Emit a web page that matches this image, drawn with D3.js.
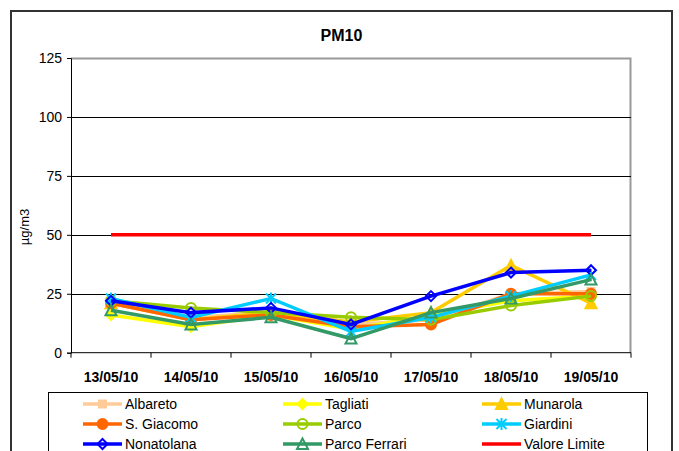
<!DOCTYPE html>
<html>
<head>
<meta charset="utf-8">
<script src="https://cdn.jsdelivr.net/npm/d3@7/dist/d3.min.js"></script>
<style>
  body { margin: 0; background: #fff; }
  text { font-family: Arial, "Liberation Sans", sans-serif; fill: #000; }
</style>
</head>
<body>
<div id="chart"></div>
<script>
// data
var dates = ["13/05/10", "14/05/10", "15/05/10", "16/05/10", "17/05/10", "18/05/10", "19/05/10"];
var yTicks = [0, 25, 50, 75, 100, 125];

var albareto = [21, 15, 17, 12, 14, 25, 26];
var tagliati = [16, 11, 16, 10, 16, 22, 24];
var munarola = [21, 14, 17, 13, 17, 37, 21];
var sGiacomo = [21, 14, 16, 11, 12, 25, 25];
var parco = [22, 19, 17, 15, 14, 20, 24];
var giardini = [23, 15, 23, 9, 15, 24, 33];
var nonatolana = [22, 17, 19, 12, 24, 34, 35];
var parcoFerrari = [18, 12, 15, 6, 17, 23, 31];
var valoreLimite = [50, 50, 50, 50, 50, 50, 50];

var series = [
  { name: "Albareto", values: albareto, color: "#FFCC99", marker: "square", fill: true },
  { name: "Tagliati", values: tagliati, color: "#FFFF00", marker: "diamond", fill: true },
  { name: "Munarola", values: munarola, color: "#FFCC00", marker: "triangle", fill: true },
  { name: "S. Giacomo", values: sGiacomo, color: "#FF6600", marker: "circle", fill: true },
  { name: "Parco", values: parco, color: "#99CC00", marker: "circle", fill: false },
  { name: "Giardini", values: giardini, color: "#00CCFF", marker: "star", fill: false },
  { name: "Nonatolana", values: nonatolana, color: "#0000FF", marker: "diamond", fill: false },
  { name: "Parco Ferrari", values: parcoFerrari, color: "#339966", marker: "triangle", fill: false },
  { name: "Valore Limite", values: valoreLimite, color: "#FF0000", marker: null, fill: false }
];

var W = 679, H = 451;
var margin = { top: 58, left: 71 },
  width = 560,
  height = 294.7;

var svg = d3.select("#chart").append("svg")
  .attr("width", W)
  .attr("height", H);

// chart border
svg.append("rect")
  .attr("x", 11).attr("y", 11)
  .attr("width", 661).attr("height", 520)
  .attr("fill", "none")
  .attr("stroke", "#333")
  .attr("stroke-width", 2);

svg.append("text")
  .attr("x", 341.5).attr("y", 41)
  .attr("text-anchor", "middle")
  .style("font-size", "16px")
  .style("font-weight", "bold")
  .text("PM10");

var g = svg.append("g")
  .attr("transform", "translate(" + margin.left + "," + margin.top + ")");

var x = d3.scaleBand().domain(dates).range([0, width]);
var y = d3.scaleLinear().domain([0, 125]).range([height, 0]);

// plot area frame (top and right are grey)
g.append("path")
  .attr("d", "M0,0.5H" + (width - 0.5) + "V" + height)
  .attr("fill", "none")
  .attr("stroke", "#999")
  .attr("stroke-width", 2);

// gridlines
g.selectAll(".grid").data(yTicks.slice(1, -1)).enter()
  .append("line")
  .attr("class", "grid")
  .attr("x1", 0).attr("x2", width)
  .attr("y1", function (d) { return Math.round(y(d)) + 0.5; })
  .attr("y2", function (d) { return Math.round(y(d)) + 0.5; })
  .attr("stroke", "#000")
  .attr("stroke-width", 1);

// y axis
var yAxis = g.append("g")
  .call(d3.axisLeft(y).tickValues(yTicks).tickSize(4).tickPadding(5));
yAxis.select(".domain").attr("stroke", "#000");
yAxis.selectAll("text").style("font-size", "14px");

// x axis, ticks between categories
var xAxis = g.append("g")
  .attr("transform", "translate(0," + height + ")");
xAxis.append("line")
  .attr("x1", 0).attr("x2", width)
  .attr("stroke", "#000");
xAxis.selectAll(".tk").data(d3.range(dates.length + 1)).enter()
  .append("line")
  .attr("class", "tk")
  .attr("x1", function (i) { return i * x.step(); })
  .attr("x2", function (i) { return i * x.step(); })
  .attr("y1", 0).attr("y2", 5)
  .attr("stroke", "#000");
xAxis.selectAll(".lbl").data(dates).enter()
  .append("text")
  .attr("class", "lbl")
  .attr("x", function (d) { return x(d) + x.bandwidth() / 2; })
  .attr("y", 29)
  .attr("text-anchor", "middle")
  .style("font-size", "14px")
  .style("font-weight", "bold")
  .text(function (d) { return d; });

svg.append("text")
  .attr("transform", "translate(29,227) rotate(-90)")
  .attr("text-anchor", "middle")
  .style("font-size", "13px")
  .text("µg/m3");

function drawMarker(sel, s, cx, cy) {
  var fill = s.fill ? s.color : "#fff";
  if (s.marker == "square") {
    sel.append("rect")
      .attr("x", cx - 4.5).attr("y", cy - 4.5)
      .attr("width", 9).attr("height", 9)
      .attr("fill", s.color);
  } else if (s.marker == "diamond") {
    sel.append("path")
      .attr("d", "M" + cx + "," + (cy - 5) + "L" + (cx + 5) + "," + cy + "L" + cx + "," + (cy + 5) + "L" + (cx - 5) + "," + cy + "Z")
      .attr("fill", s.fill ? fill : "none")
      .attr("stroke", s.color).attr("stroke-width", 2);
  } else if (s.marker == "triangle") {
    sel.append("path")
      .attr("d", "M" + cx + "," + (cy - 5.5) + "L" + (cx + 5.5) + "," + (cy + 5) + "L" + (cx - 5.5) + "," + (cy + 5) + "Z")
      .attr("fill", s.fill ? fill : "none")
      .attr("stroke", s.color).attr("stroke-width", 2);
  } else if (s.marker == "circle") {
    sel.append("circle")
      .attr("cx", cx).attr("cy", cy).attr("r", 5)
      .attr("fill", s.fill ? fill : "none")
      .attr("stroke", s.color).attr("stroke-width", 2);
  } else if (s.marker == "star") {
    sel.append("path")
      .attr("d", "M" + (cx - 5) + "," + (cy - 5) + "L" + (cx + 5) + "," + (cy + 5) +
        "M" + (cx + 5) + "," + (cy - 5) + "L" + (cx - 5) + "," + (cy + 5) +
        "M" + cx + "," + (cy - 6) + "L" + cx + "," + (cy + 6))
      .attr("stroke", s.color).attr("stroke-width", 2);
  }
}

var line = d3.line()
  .x(function (d, i) { return x(dates[i]) + x.bandwidth() / 2; })
  .y(function (d) { return y(d); });

series.forEach(function (s) {
  var sg = g.append("g");
  sg.append("path")
    .datum(s.values)
    .attr("d", line)
    .attr("fill", "none")
    .attr("stroke", s.color)
    .attr("stroke-width", 3.5);
  s.values.forEach(function (v, i) {
    drawMarker(sg, s, x(dates[i]) + x.bandwidth() / 2, y(v));
  });
});

// legend
var legend = svg.append("g");
legend.append("rect")
  .attr("x", 48.5).attr("y", 392.5)
  .attr("width", 599).attr("height", 80)
  .attr("fill", "#fff")
  .attr("stroke", "#000");

var colX = [83, 283, 482];
series.forEach(function (s, i) {
  var lx = colX[i % 3], ly = 404 + Math.floor(i / 3) * 20;
  var lg = legend.append("g");
  lg.append("line")
    .attr("x1", lx).attr("x2", lx + 39)
    .attr("y1", ly).attr("y2", ly)
    .attr("stroke", s.color).attr("stroke-width", 3.5);
  drawMarker(lg, s, lx + 19.5, ly);
  lg.append("text")
    .attr("x", lx + 42).attr("y", ly + 5)
    .style("font-size", "14px")
    .text(s.name);
});
</script>
</body>
</html>
